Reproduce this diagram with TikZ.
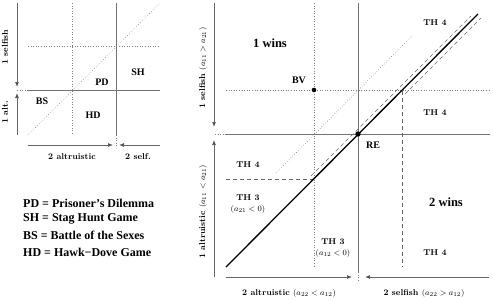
\documentclass[tikz,border=0pt]{standalone}
\usepackage{fontspec}
\newfontfamily\tms{Liberation Serif}
\usetikzlibrary{arrows.meta}
\tikzset{
  axline/.style={draw=black!55, line width=0.6pt},
  dotline/.style={draw=black!50, dotted, line width=0.6pt},
  dashline/.style={draw=black!60, dash pattern=on 4pt off 3pt, line width=0.6pt},
  arr/.style={draw=black!60, line width=0.7pt, -{Latex[length=5pt,width=4pt,fill=black]}},
  lab/.style={font=\fontsize{8.5}{10}\selectfont\bfseries, inner sep=0pt},
  tlab/.style={font=\fontsize{10}{12}\selectfont\tms\bfseries, inner sep=0pt},
  big/.style={font=\fontsize{12.5}{14}\selectfont\tms\bfseries, inner sep=0pt},
  leg/.style={font=\fontsize{12}{14}\selectfont\tms\bfseries, inner sep=0pt, anchor=west},
}
\begin{document}
\begin{tikzpicture}[x=1pt,y=-1pt]
\useasboundingbox (0,0) rectangle (493,300);
% ---------- left panel ----------
\draw[dotline] (72,3) -- (72,135);
\draw[axline] (116,3) -- (116,135);
\draw[dotline] (116,135) -- (116,147);
\draw[axline] (28,90) -- (160,90);
\draw[dotline] (17,90) -- (28,90);
\draw[dotline] (28,46) -- (160,46);
\draw[dotline] (28,135) -- (160,3);
\draw[arr] (17,3) -- (17,87);
\draw[arr] (17,135) -- (17,93);
\draw[arr] (28,145) -- (113,145);
\draw[arr] (160,145) -- (119,145);
\node[lab, rotate=90] (ls) at (5,47) {1 selfish};
\node[lab, rotate=90] (la) at (5,112) {1 alt.};
\node[lab] (l2a) at (72,157) {2 altruistic};
\node[lab] (l2s) at (138,157) {2 self.};
\node[tlab] (pd) at (102,82) {PD};
\node[tlab] (sh) at (138,72) {SH};
\node[tlab] (bs) at (42,101) {BS};
\node[tlab] (hd) at (93,115) {HD};
% legend
\node[leg] (g1) at (23,203) {PD = Prisoner’s Dilemma};
\node[leg] (g2) at (23,219) {SH = Stag Hunt Game};
\node[leg] (g3) at (23,235) {BS = Battle of the Sexes};
\node[leg] (g4) at (23,252) {HD = Hawk\textminus Dove Game};
% ---------- right panel ----------
\draw[dotline] (314,3) -- (314,267);
\draw[dotline] (226,90) -- (490,90);
\draw[axline] (226,134) -- (490,134);
\draw[dotline] (215,134) -- (226,134);
\draw[axline] (358,3) -- (358,272);
\draw[dotline] (358,272) -- (358,282);
\draw[dotline] (276,173) -- (413,35);
\draw[dashline] (226,179) -- (314,179);
\draw[dashline] (402,91) -- (402,267);
\draw[dashline] (311,176) -- (471,16);
\draw[dashline] (405,94) -- (481,18);
\draw[black, line width=1.3pt] (226,267) -- (478,14);
\fill (314,90) circle (2.3);
\fill (358,134) circle (2.7);
\draw[arr] (214,3) -- (214,127);
\draw[arr] (214,277) -- (214,140);
\draw[arr] (226,277) -- (352,277);
\draw[arr] (489,277) -- (365,277);
\node[lab, rotate=90] (rs) at (203,68) {1 selfish $(a_{11} > a_{21})$};
\node[lab, rotate=90] (ra) at (203,212) {1 altruistic $(a_{11} < a_{21})$};
\node[lab] (r2a) at (289,293) {2 altruistic $(a_{22} < a_{12})$};
\node[lab] (r2s) at (424,293) {2 selfish $(a_{22} > a_{12})$};
\node[big] (w1) at (270,43) {1 wins};
\node[big] (w2) at (446,202) {2 wins};
\node[tlab] (bv) at (299,80) {BV};
\node[tlab] (re) at (373,145) {RE};
\node[lab] (t4a) at (435,23) {TH 4};
\node[lab] (t4b) at (435,113) {TH 4};
\node[lab] (t4c) at (248,165) {TH 4};
\node[lab] (t4d) at (435,253) {TH 4};
\node[lab, align=center] (t3a) at (248,204) {TH 3\\[1pt] $(a_{21} < 0)$};
\node[lab, align=center] (t3b) at (333,248) {TH 3\\[1pt] $(a_{12} < 0)$};
\end{tikzpicture}
\end{document}
